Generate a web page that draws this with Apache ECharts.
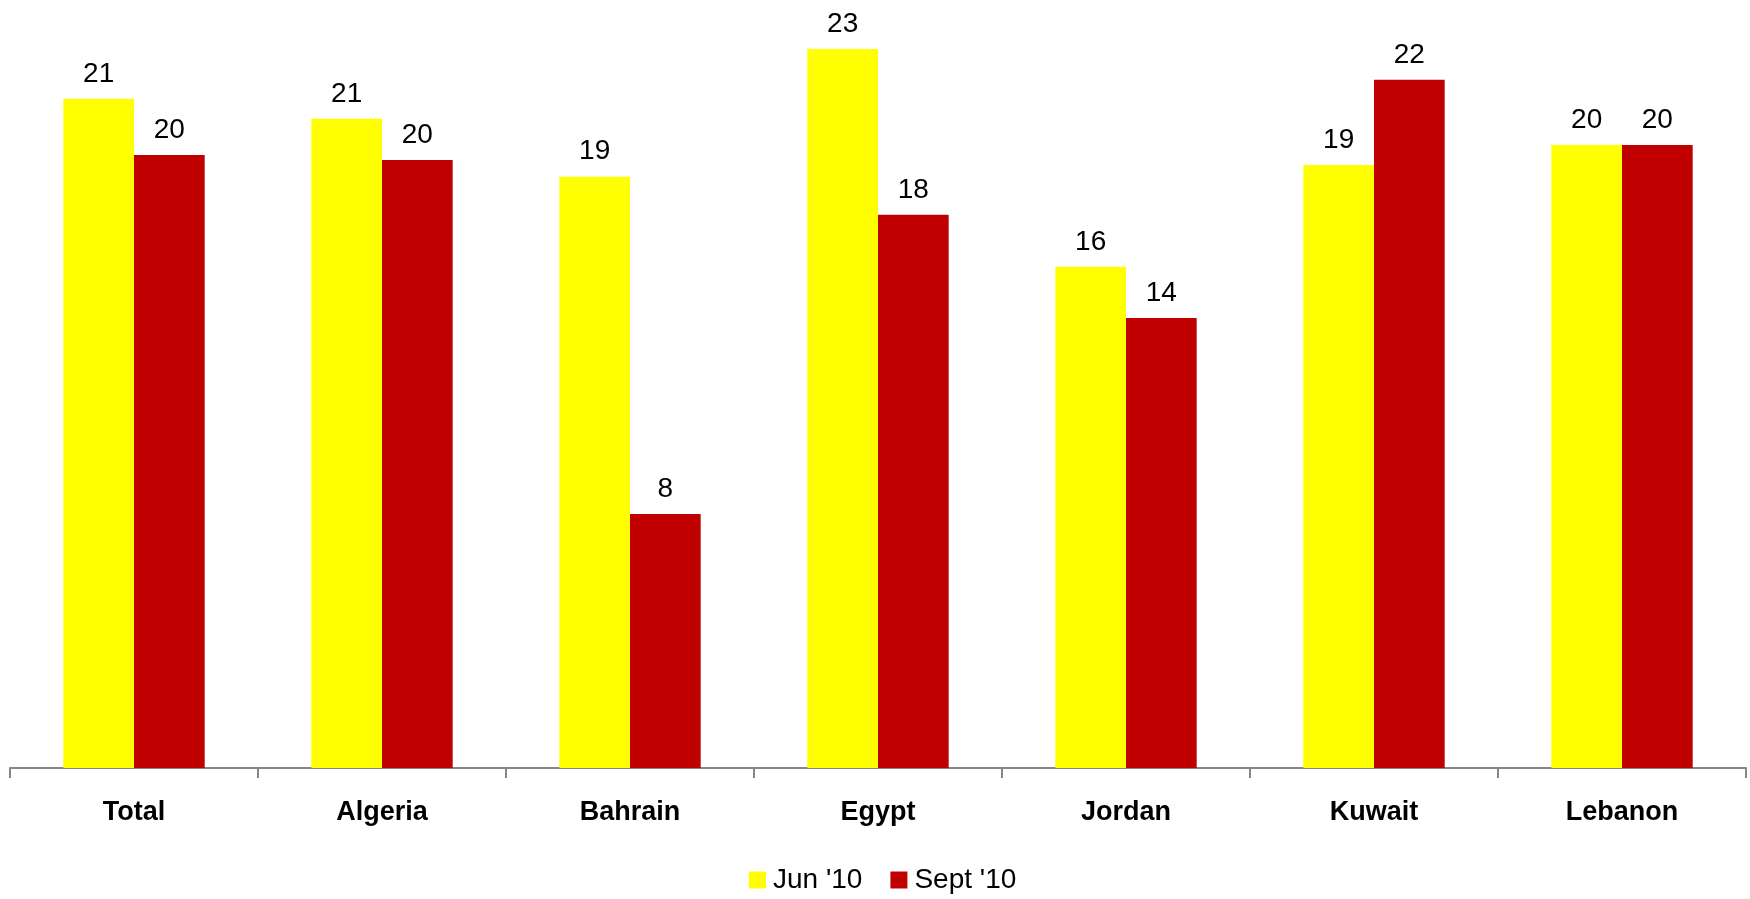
<!DOCTYPE html>
<html>
<head>
<meta charset="utf-8">
<script src="https://cdn.jsdelivr.net/npm/echarts@6/dist/echarts.min.js"></script>
<style>html,body{margin:0;padding:0;background:#fff;}#c{width:1750px;height:899px;}</style>
</head>
<body>
<div id="c"></div>
<script>
const categories = ['Total', 'Algeria', 'Bahrain', 'Egypt', 'Jordan', 'Kuwait', 'Lebanon'];
const seriesNames = ["Jun '10", "Sept '10"];
const jun10 = [21.47, 20.83, 18.97, 23.07, 16.08, 19.35, 19.99];
const sept10 = [19.67, 19.51, 8.15, 17.75, 14.44, 22.08, 19.99];

const chart = echarts.init(document.getElementById('c'), null, {renderer: 'canvas'});
const labelStyle = {
  show: true, position: 'top', distance: 11,
  fontFamily: 'Liberation Sans, Arial, sans-serif', fontSize: 28, color: '#000',
  formatter: p => Math.round(p.value)
};
chart.setOption({
  animation: false,
  backgroundColor: '#fff',
  grid: {left: 10, right: 4, top: 20, bottom: 131, containLabel: false},
  legend: {
    left: 749, top: 866, padding: 0,
    itemWidth: 17, itemHeight: 17, itemGap: 28,
    icon: 'rect',
    textStyle: {fontFamily: 'Liberation Sans, Arial, sans-serif', fontSize: 28, color: '#000', padding: [0,0,0,2]},
    data: seriesNames
  },
  xAxis: {
    type: 'category', data: categories, boundaryGap: true,
    axisLine: {show: true, lineStyle: {color: '#868686', width: 2}},
    axisTick: {show: true, length: 10, lineStyle: {color: '#868686', width: 2}},
    axisLabel: {margin: 31, fontFamily: 'Liberation Sans, Arial, sans-serif', fontSize: 27, fontWeight: 'bold', color: '#000'}
  },
  yAxis: {type: 'value', min: 0, max: 24, show: false, splitLine: {show: false}},
  series: [
    {name: seriesNames[0], type: 'bar', data: jun10, barGap: '0%', barCategoryGap: '43%',
     itemStyle: {color: '#FFFF00'}, label: labelStyle},
    {name: seriesNames[1], type: 'bar', data: sept10, barGap: '0%', barCategoryGap: '43%',
     itemStyle: {color: '#C00000'}, label: labelStyle}
  ]
});
</script>
</body>
</html>
